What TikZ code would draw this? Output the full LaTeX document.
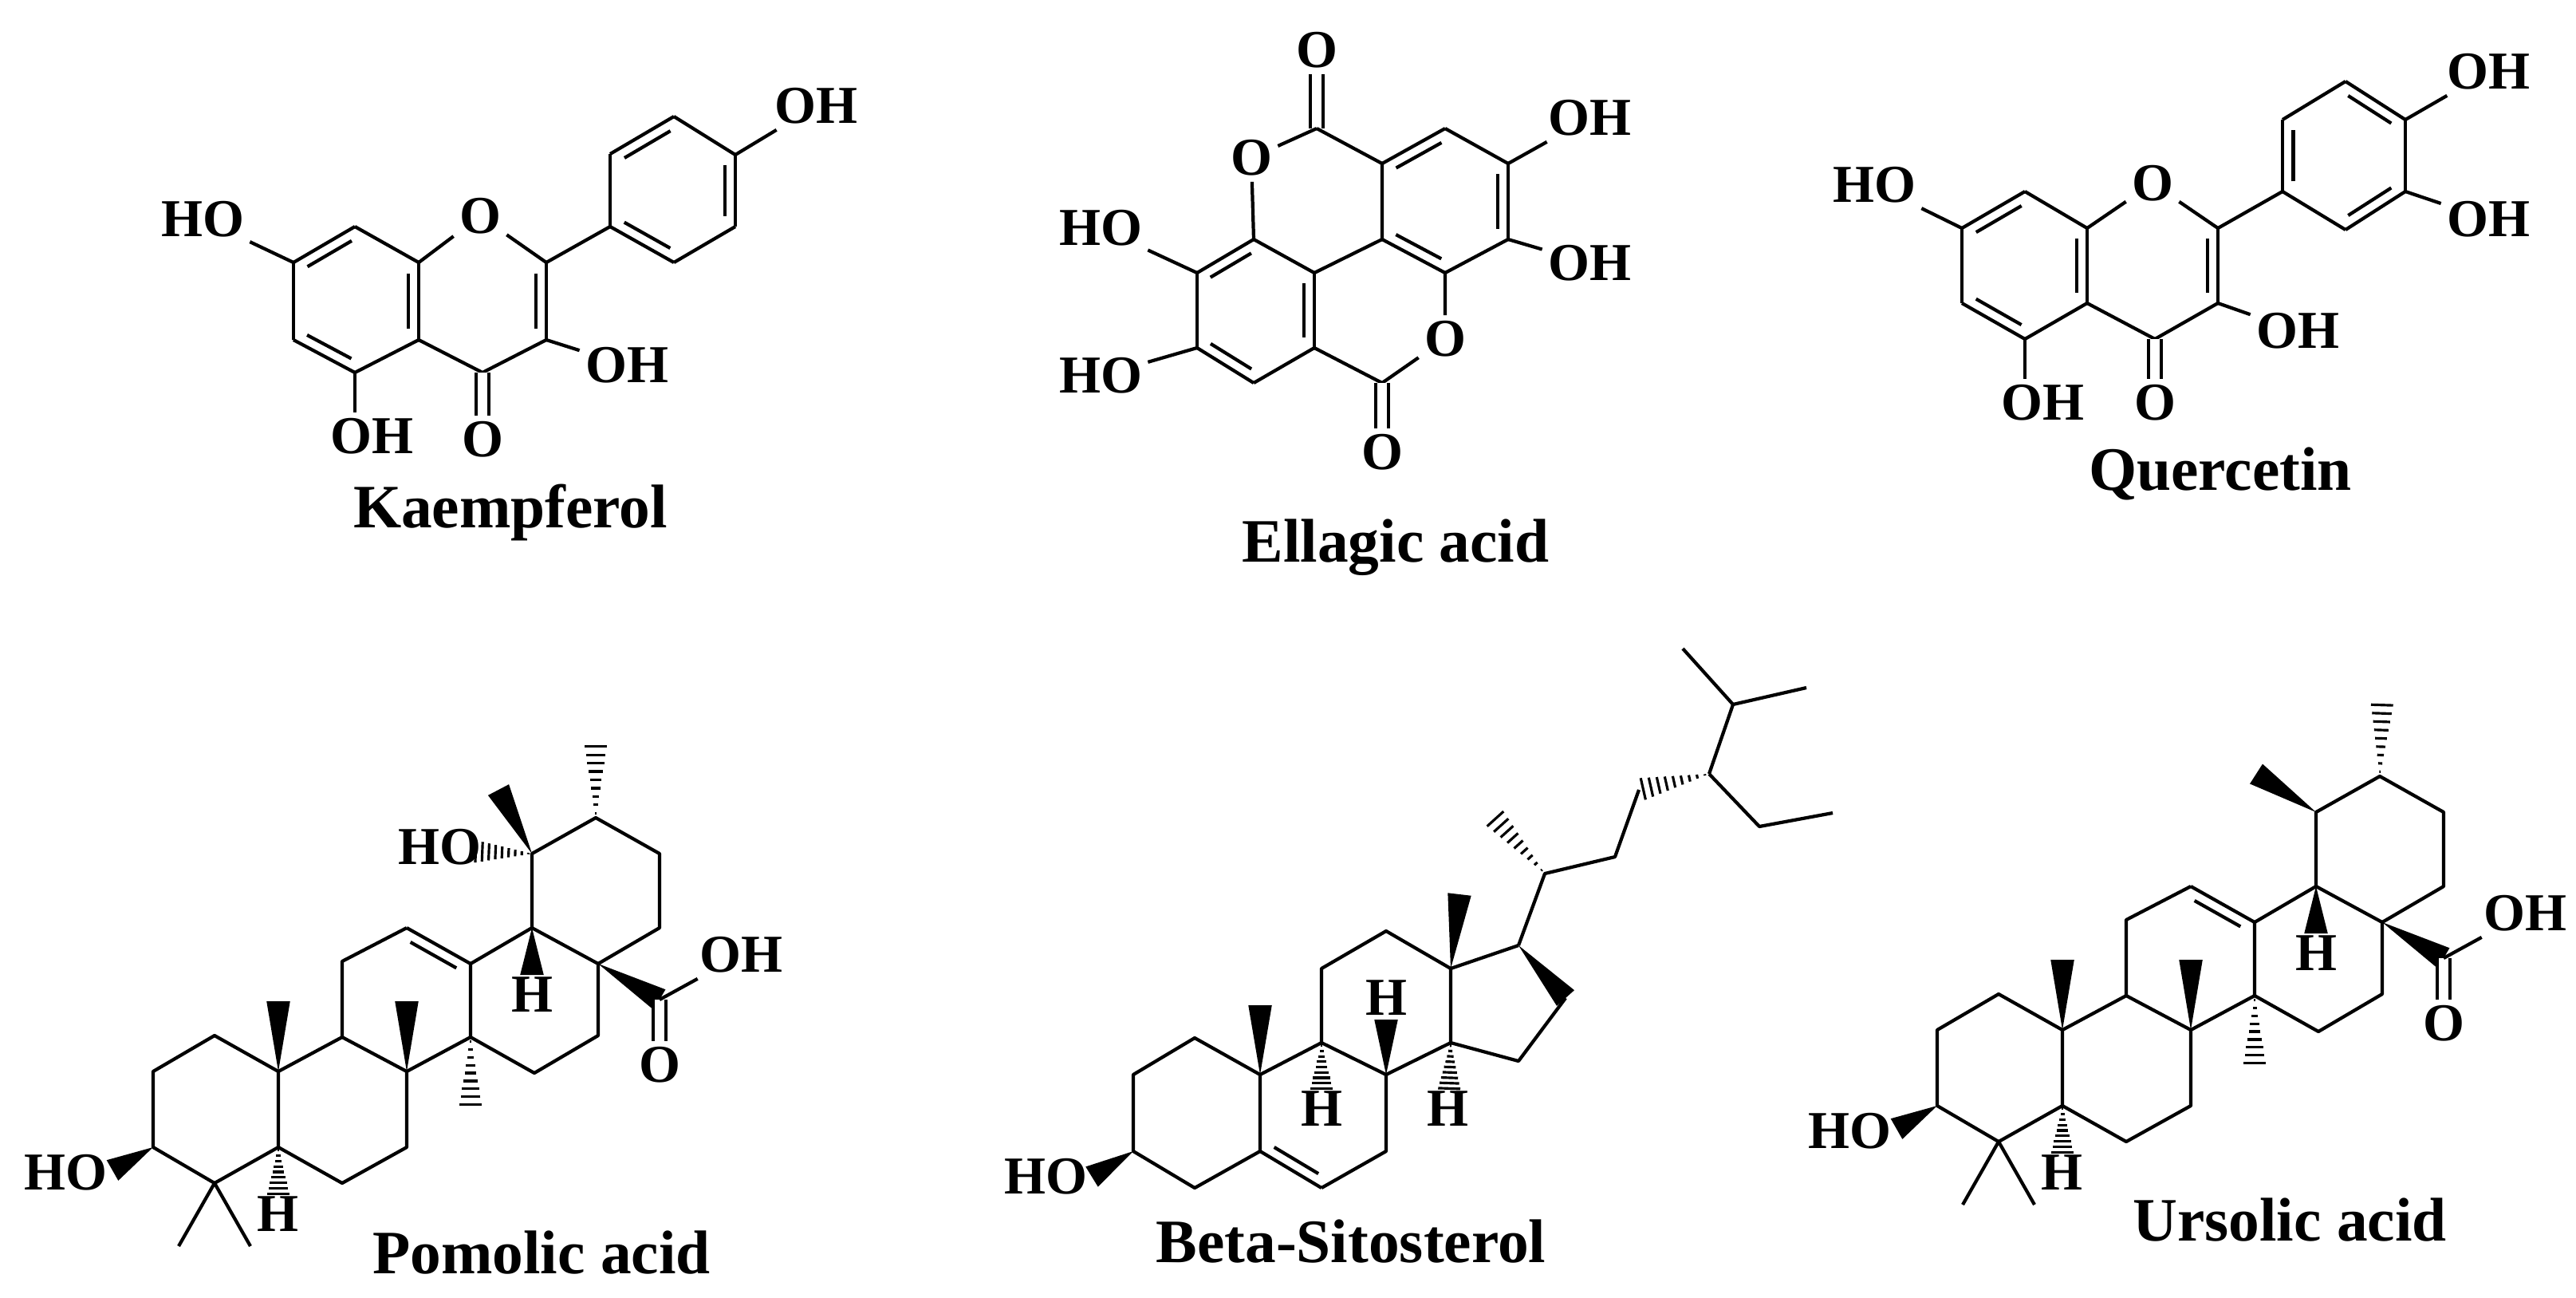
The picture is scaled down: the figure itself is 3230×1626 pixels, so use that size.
\documentclass[tikz,border=0pt]{standalone}
\usepackage{fontspec}
\setmainfont{Liberation Serif}
\usetikzlibrary{calc}
\newcommand\dbc[2]{\draw (#1)--(#2); \draw ($(#1)!0.14!(#2)!3.8pt!-90:(#2)$) -- ($(#2)!0.14!(#1)!3.8pt!90:(#1)$);}
\newcommand\wdg[2]{\fill (#1) -- ($(#2)!4.2pt!90:(#1)$) -- ($(#2)!4.2pt!-90:(#1)$) -- cycle;}
\newcommand\hsh[2]{\foreach \t [evaluate=\t as \w using \t*4.2] in {0.06,0.17,...,0.95}{\draw[line width=0.9pt] ($(#1)!\t!(#2)!\w pt!90:(#2)$) -- ($(#1)!\t!(#2)!\w pt!-90:(#2)$);}}
\newcommand\triskel[1]{%
 \coordinate (#1t1) at (192,1343); \coordinate (#1t2) at (269,1298); \coordinate (#1t10) at (349,1343);
 \coordinate (#1t5) at (349,1438); \coordinate (#1t4) at (269,1483); \coordinate (#1t3) at (192,1438);
 \coordinate (#1t9) at (429,1300); \coordinate (#1t8) at (510,1343); \coordinate (#1t7) at (510,1438); \coordinate (#1t6) at (429,1483);
 \coordinate (#1t11) at (429,1205); \coordinate (#1t12) at (510,1163); \coordinate (#1t13) at (590,1208); \coordinate (#1t14) at (590,1300);
 \coordinate (#1t18) at (667,1163); \coordinate (#1t17) at (750,1208); \coordinate (#1t16) at (750,1298); \coordinate (#1t15) at (670,1345);
 \coordinate (#1t19) at (667,1070); \coordinate (#1t20) at (747,1025); \coordinate (#1t21) at (827,1070); \coordinate (#1t22) at (827,1163);
 \draw (#1t1)--(#1t2)--(#1t10)--(#1t5)--(#1t4)--(#1t3)--cycle;
 \draw (#1t10)--(#1t9)--(#1t8)--(#1t7)--(#1t6)--(#1t5);
 \draw (#1t9)--(#1t11)--(#1t12); \draw (#1t13)--(#1t14)--(#1t8);
 \dbc{#1t12}{#1t13}
 \draw (#1t13)--(#1t18)--(#1t17)--(#1t16)--(#1t15)--(#1t14);
 \draw (#1t18)--(#1t19)--(#1t20)--(#1t21)--(#1t22)--(#1t17);
 \coordinate (#1m10) at (349,1255); \coordinate (#1m8) at (510,1255); \coordinate (#1m14) at (590,1390);
 \wdg{#1t10}{#1m10} \wdg{#1t8}{#1m8} \hsh{#1t14}{#1m14}
 \coordinate (#1h5) at (349,1500); \hsh{#1t5}{#1h5} \node[lbl] (#1H5) at (348,1522) {H};
 \coordinate (#1h18) at (667,1222); \wdg{#1t18}{#1h18} \node[lbl] (#1H18) at (667,1247) {H};
 \coordinate (#1o3) at (141,1467); \wdg{#1t3}{#1o3} \node[lbl] (#1HO3) at (82,1470) {HO};
 \coordinate (#1m4a) at (224,1562); \coordinate (#1m4b) at (314,1562);
 \draw (#1m4a)--(#1t4)--(#1m4b);
 \coordinate (#1c28) at (827,1253); \wdg{#1t17}{#1c28}
 \node[lbl] (#1O28) at (827,1335) {O}; \node[lbl] (#1OH28) at (929,1197) {OH};
 \draw[double,double distance=3.5pt] (#1c28)--(#1O28); \draw (#1c28)--(#1OH28);
}
\begin{document}
\begin{tikzpicture}[x=0.01cm,y=-0.01cm,line width=1.2pt,line join=round,
 lbl/.style={font=\fontsize{19}{19}\selectfont\bfseries,inner sep=1.5pt},
 title/.style={font=\fontsize{22}{22}\selectfont\bfseries,inner sep=0pt}]
\useasboundingbox (0,0) rectangle (3230,1626);
% ---------- Kaempferol
\coordinate (k7) at (368,329); \coordinate (k8) at (445,284); \coordinate (k8a) at (525,329);
\coordinate (k4a) at (525,426); \coordinate (k5) at (445,467); \coordinate (k6) at (368,426);
\coordinate (k2) at (685,329); \coordinate (k3) at (685,426); \coordinate (k4) at (605,467);
\node[lbl] (kO1) at (602,271) {O}; \node[lbl] (kO4) at (605,551) {O};
\node[lbl] (kOH3) at (786,458) {OH}; \node[lbl] (kOH5) at (466,547) {OH};
\node[lbl] (kHO7) at (254,275) {HO};
\coordinate (b1) at (765,284); \coordinate (b2) at (765,193); \coordinate (b3) at (845,146);
\coordinate (b4) at (922,194); \coordinate (b5) at (922,284); \coordinate (b6) at (845,329);
\node[lbl] (kOH4) at (1023,133) {OH};
\dbc{k7}{k8} \draw (k8)--(k8a); \dbc{k8a}{k4a} \draw (k4a)--(k5); \dbc{k5}{k6} \draw (k6)--(k7);
\draw (k8a)--(kO1)--(k2); \dbc{k2}{k3} \draw (k3)--(k4)--(k4a);
\draw[double,double distance=3.5pt] (k4)--(kO4);
\draw (k3)--(kOH3); \draw (k5)--(kOH5.north -| k5); \draw (k7)--(kHO7);
\draw (k2)--(b1); \dbc{b2}{b3} \draw (b3)--(b4); \dbc{b4}{b5} \draw (b5)--(b6); \dbc{b6}{b1} \draw (b1)--(b2);
\draw (b4)--(kOH4);
\node[title] (tk) at (640,642) {Kaempferol};
% ---------- Ellagic acid
\coordinate (e1) at (1651,161); \coordinate (e2) at (1733,480);
\coordinate (a1) at (1572,300); \coordinate (a2) at (1501,342); \coordinate (a3) at (1501,436);
\coordinate (a4) at (1572,480); \coordinate (a5) at (1648,436); \coordinate (a6) at (1648,342);
\coordinate (m1) at (1733,300); \coordinate (m2) at (1733,205);
\coordinate (r1) at (1812,161); \coordinate (r2) at (1891,205); \coordinate (r3) at (1891,300); \coordinate (r4) at (1812,342);
\node[lbl] (eOt) at (1651,63) {O}; \node[lbl] (eO1) at (1569,198) {O};
\node[lbl] (eO2) at (1812,425) {O}; \node[lbl] (eOb) at (1733,567) {O};
\node[lbl] (eHO1) at (1380,286) {HO}; \node[lbl] (eHO2) at (1380,471) {HO};
\node[lbl] (eOH1) at (1993,148) {OH}; \node[lbl] (eOH2) at (1993,330) {OH};
\draw[double,double distance=3.5pt] (e1)--(eOt);
\draw (e1)--(eO1)--(a1); \dbc{a2}{a1} \draw (a2)--(a3); \dbc{a4}{a3} \draw (a4)--(a5); \dbc{a6}{a5} \draw (a1)--(a6);
\draw (a6)--(m1)--(m2)--(e1); \dbc{m2}{r1} \draw (r1)--(r2); \dbc{r2}{r3} \draw (r3)--(r4); \dbc{r4}{m1}
\draw (r4)--(eO2)--(e2)--(a5); \draw[double,double distance=3.5pt] (e2)--(eOb);
\draw (a2)--(eHO1); \draw (a3)--(eHO2); \draw (r2)--(eOH1); \draw (r3)--(eOH2);
\node[title] (te) at (1750,686) {Ellagic acid};
% ---------- Quercetin
\coordinate (q7) at (2460,286); \coordinate (q8) at (2539,240); \coordinate (q8a) at (2617,286);
\coordinate (q4a) at (2617,380); \coordinate (q5) at (2539,425); \coordinate (q6) at (2460,380);
\coordinate (q2) at (2781,286); \coordinate (q3) at (2781,380); \coordinate (q4) at (2702,425);
\node[lbl] (qO1) at (2699,230) {O}; \node[lbl] (qO4) at (2702,505) {O};
\node[lbl] (qOH3) at (2881,415) {OH}; \node[lbl] (qOH5) at (2561,505) {OH};
\node[lbl] (qHO7) at (2350,232) {HO};
\coordinate (c1) at (2862,240); \coordinate (c2) at (2862,150); \coordinate (c3) at (2941,102);
\coordinate (c4) at (3016,150); \coordinate (c5) at (3016,240); \coordinate (c6) at (2941,288);
\node[lbl] (qOHa) at (3120,90) {OH}; \node[lbl] (qOHb) at (3120,275) {OH};
\dbc{q7}{q8} \draw (q8)--(q8a); \dbc{q8a}{q4a} \draw (q4a)--(q5); \dbc{q5}{q6} \draw (q6)--(q7);
\draw (q8a)--(qO1)--(q2); \dbc{q2}{q3} \draw (q3)--(q4)--(q4a);
\draw[double,double distance=3.5pt] (q4)--(qO4);
\draw (q3)--(qOH3); \draw (q5)--(qOH5.north -| q5); \draw (q7)--(qHO7);
\draw (q2)--(c1); \dbc{c1}{c2} \draw (c2)--(c3); \dbc{c3}{c4} \draw (c4)--(c5); \dbc{c5}{c6} \draw (c6)--(c1);
\draw (c4)--(qOHa); \draw (c5)--(qOHb);
\node[title] (tq) at (2784,594) {Quercetin};
% ---------- Pomolic acid
\triskel{p}
\coordinate (pm19) at (625,990); \wdg{pt19}{pm19}
\coordinate (po19) at (592,1067); \hsh{pt19}{po19} \node[lbl] (pHO19) at (551,1062) {HO};
\coordinate (pm20) at (747,930); \hsh{pt20}{pm20}
\node[title] (tp) at (679,1570) {Pomolic acid};
% ---------- Ursolic acid
\begin{scope}[shift={(2237,-52)}]
\triskel{u}
\coordinate (um19) at (592,1022); \wdg{ut19}{um19}
\coordinate (um20) at (750,930); \hsh{ut20}{um20}
\end{scope}
\node[title] (tu) at (2871,1529) {Ursolic acid};
% ---------- Beta-Sitosterol
\coordinate (s1) at (1421,1347); \coordinate (s2) at (1498,1301); \coordinate (s10) at (1580,1347);
\coordinate (s5) at (1580,1443); \coordinate (s4) at (1498,1489); \coordinate (s3) at (1421,1443);
\coordinate (s9) at (1657,1307); \coordinate (s8) at (1738,1347); \coordinate (s7) at (1738,1443); \coordinate (s6) at (1657,1489);
\coordinate (s11) at (1657,1214); \coordinate (s12) at (1738,1167); \coordinate (s13) at (1819,1214); \coordinate (s14) at (1819,1307);
\coordinate (s17) at (1904,1185); \coordinate (s16) at (1963,1251); \coordinate (s15) at (1904,1330);
\draw (s1)--(s2)--(s10)--(s5)--(s4)--(s3)--cycle;
\draw (s10)--(s9)--(s8)--(s7)--(s6); \dbc{s6}{s5}
\draw (s9)--(s11)--(s12)--(s13)--(s14)--(s8);
\draw (s13)--(s17); \draw (s16)--(s15)--(s14);
\wdg{s17}{s16}
\coordinate (sm10) at (1580,1260); \wdg{s10}{sm10}
\coordinate (sm13) at (1830,1121); \wdg{s13}{sm13}
\coordinate (sh9) at (1657,1368); \hsh{s9}{sh9} \node[lbl] (sH9) at (1657,1390) {H};
\coordinate (sh8) at (1738,1278); \wdg{s8}{sh8} \node[lbl] (sH8) at (1738,1251) {H};
\coordinate (sh14) at (1817,1368); \hsh{s14}{sh14} \node[lbl] (sH14) at (1815,1390) {H};
\coordinate (so3) at (1369,1475); \wdg{s3}{so3} \node[lbl] (sHO3) at (1311,1475) {HO};
\coordinate (s20) at (1937,1095); \coordinate (s21) at (1871,1022); \coordinate (s22) at (2025,1074);
\coordinate (s23) at (2055,990); \coordinate (s24) at (2143,970); \coordinate (s25) at (2173,883);
\coordinate (s26) at (2110,813); \coordinate (s27) at (2265,862); \coordinate (s28) at (2206,1036); \coordinate (s29) at (2298,1019);
\draw (s17)--(s20)--(s22)--(s23); \hsh{s20}{s21} \hsh{s24}{s23}
\draw (s24)--(s25)--(s26); \draw (s25)--(s27); \draw (s24)--(s28)--(s29);
\node[title] (ts) at (1694,1556) {Beta-Sitosterol};
\end{tikzpicture}
\end{document}
